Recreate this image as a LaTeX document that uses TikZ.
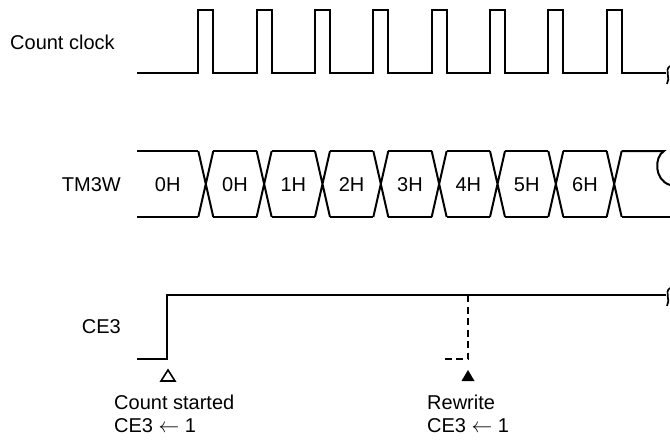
\documentclass[tikz,border=0pt]{standalone}
\usepackage{fontspec}
\setmainfont{Liberation Sans}
\begin{document}
\begin{tikzpicture}[x=1pt,y=-1pt,
  sig/.style={line width=2pt, line join=miter},
  brk/.style={line width=1.7pt},
  lbl/.style={inner sep=0pt, font=\fontsize{20}{23}\selectfont},
  dsh/.style={line width=2pt, dash pattern=on 7pt off 4.5pt},
  tri/.style={line width=1.6pt, line join=miter}]
\useasboundingbox (0,0) rectangle (670,445);
% labels
\node[lbl, anchor=west] (lclk) at (10,42) {Count clock};
\node[lbl, anchor=east] (ltm) at (121,185) {TM3W};
\node[lbl, anchor=east] (lce) at (121,327) {CE3};
% count clock
\draw[sig] (137,73) foreach \k in {0,...,7} { -- ({198.3+58.34*\k},73) -- ++(0,-63) -- ++(15,0) -- ++(0,63) } -- (666,73);
\draw[brk] (670,66) .. controls (664,70) and (671,78) .. (667,84);
% TM3W
\draw[sig] (137,151) -- (198.3,151) (137,217) -- (198.3,217);
\foreach \k in {0,...,7} {
  \pgfmathsetmacro\xa{198.3+58.34*\k}
  \draw[sig] (\xa,151) -- ++(15,66) (\xa,217) -- ++(15,-66);
}
\foreach \k in {0,...,6} {
  \pgfmathsetmacro\xa{213.3+58.34*\k}
  \pgfmathsetmacro\xb{198.3+58.34*(\k+1)}
  \draw[sig] (\xa,151) -- (\xb,151) (\xa,217) -- (\xb,217);
}
\draw[sig] (621.7,217) -- (670,217);
\draw[sig] (621.7,151) -- (664,151) .. controls (654,157) and (654,180) .. (670,185);
\node[lbl] (v0) at (167.7,185) {0H};
\foreach \t [count=\k from 0] in {0H,1H,2H,3H,4H,5H,6H} {
  \pgfmathsetmacro\xc{(213.3+58.34*\k+198.3+58.34*(\k+1))/2}
  \node[lbl] (v\t) at (\xc,185) {\t};
}
% CE3
\draw[sig] (137,359) -- (166.7,359) -- (166.7,295) -- (666,295);
\draw[brk] (670,288) .. controls (664,292) and (671,300) .. (667,306);
\draw[dsh] (468,295) -- (468,359) -- (441,359);
% markers
\draw[tri] (168,370) -- (175,381) -- (161,381) -- cycle;
\fill (468,370) -- (474.5,381) -- (461.5,381) -- cycle;
\node[lbl, anchor=west, align=left] (cs) at (114,414) {Count started\\CE3 \smash{$\leftarrow$} 1};
\node[lbl, anchor=west, align=left] (rw) at (427,414) {Rewrite\\CE3 \smash{$\leftarrow$} 1};
\end{tikzpicture}
\end{document}
